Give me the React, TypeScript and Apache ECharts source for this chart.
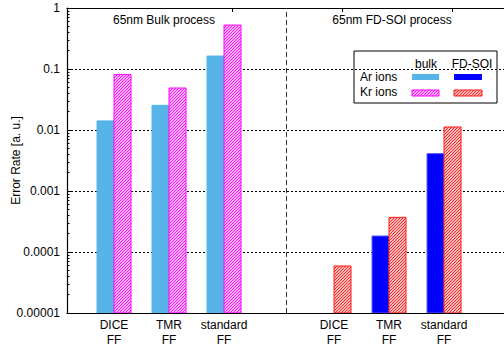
import React, { useEffect, useRef } from 'react';
import * as echarts from 'echarts';

const categories = ['DICE\nFF', 'TMR\nFF', 'standard\nFF', 'DICE\nFF', 'TMR\nFF', 'standard\nFF'];
const catPositions = [1, 2, 3, 5, 6, 7];
const bulkAr: (number | null)[] = [0.0141, 0.0254, 0.163];
const bulkKr: (number | null)[] = [0.081, 0.0488, 0.525];
const soiAr: (number | null)[] = [null, 0.000183, 0.0041];
const soiKr: (number | null)[] = [0.000059, 0.00037, 0.0112];
const yTicks = [1e-5, 1e-4, 1e-3, 1e-2, 1e-1, 1];
const yTickLabels = ['0.00001', '0.0001', '0.001', '0.01', '0.1', '1'];
const groupTitles = ['65nm Bulk process', '65nm FD-SOI process'];
const legendCols = ['bulk', 'FD-SOI'];
const legendRows = ['Ar ions', 'Kr ions'];
const yName = 'Error Rate [a. u.]';
const X_MIN = 0.145;
const X_MAX = 8.145;
const DIVIDER_X = 4.145;
const TOP_TICKS = [3.145, 5.145, 7.145];
const Y_MIN = 1e-5;
const Y_MAX = 1;

const FONT = "'Liberation Sans', Arial, Helvetica, sans-serif";
const LIGHT_BLUE = '#56b4e9';
const BLUE = '#0000ff';
const MAGENTA = '#ff00ff';
const RED = '#ff1a1a';

function makeHatch(color: string) {
  const c = document.createElement('canvas');
  const s = 3;
  c.width = s;
  c.height = s;
  const ctx = c.getContext('2d')!;
  ctx.fillStyle = '#ffffff';
  ctx.fillRect(0, 0, s, s);
  ctx.strokeStyle = color;
  ctx.lineWidth = 1.1;
  for (const k of [-s, 0, s]) {
    ctx.beginPath();
    ctx.moveTo(k - 1, s + 1);
    ctx.lineTo(k + s + 1, -1);
    ctx.stroke();
  }
  return { image: c, repeat: 'repeat' } as any;
}

function minorValues() {
  const out: number[] = [];
  for (let e = -5; e < 0; e++) {
    for (let m = 2; m <= 9; m++) out.push(m * Math.pow(10, e));
  }
  return out;
}

export default function App() {
  const ref = useRef<HTMLDivElement>(null);
  useEffect(() => {
    if (!ref.current) return;
    const chart = echarts.init(ref.current, undefined, { renderer: 'svg' });
    const magentaHatch = makeHatch(MAGENTA);
    const redHatch = makeHatch(RED);

    const barSeries = (name: string, values: (number | null)[], offsetIdx: number, side: number, fill: any, stroke: string) => ({
      type: 'custom',
      name,
      xAxisIndex: 0,
      yAxisIndex: 0,
      clip: true,
      renderItem: (params: any, api: any) => {
        const x = api.value(0);
        const y = api.value(1);
        const top = api.coord([x, y]);
        const base = api.coord([x, Y_MIN]);
        const w = api.size([1, 0])[0] * 0.309;
        const left = side < 0 ? top[0] - w : top[0];
        return {
          type: 'rect',
          shape: { x: left, y: top[1], width: w, height: base[1] - top[1] },
          style: { fill, stroke, lineWidth: 1 },
        };
      },
      encode: { x: 0, y: 1 },
      data: values
        .map((v, i) => (v == null ? null : [catPositions[offsetIdx + i], v]))
        .filter((d) => d != null),
    });

    const option: any = {
      animation: false,
      backgroundColor: '#ffffff',
      textStyle: { fontFamily: FONT },
      grid: { left: 67, top: 8, width: 440, height: 305, containLabel: false, outerBoundsMode: 'none' },
      xAxis: [
        {
          type: 'value',
          min: X_MIN,
          max: X_MAX,
          position: 'bottom',
          axisLine: { show: true, lineStyle: { color: '#000', width: 1.2 } },
          axisTick: { show: false },
          splitLine: { show: false },
          axisLabel: {
            customValues: catPositions,
            formatter: (v: number) => {
              const i = catPositions.findIndex((p) => Math.abs(p - v) < 1e-6);
              return i >= 0 ? categories[i] : '';
            },
            color: '#000',
            fontSize: 12,
            fontFamily: FONT,
            lineHeight: 15,
            margin: 4,
          },
        },
        {
          type: 'value',
          min: X_MIN,
          max: X_MAX,
          position: 'top',
          axisLine: { show: true, lineStyle: { color: '#000', width: 1.2 } },
          axisTick: { show: true, inside: true, length: 4, customValues: TOP_TICKS, lineStyle: { color: '#000' } },
          axisLabel: { show: false },
          splitLine: { show: false },
        },
      ],
      yAxis: [
        {
          type: 'log',
          logBase: 10,
          min: Y_MIN,
          max: Y_MAX,
          position: 'left',
          name: yName,
          nameLocation: 'middle',
          nameRotate: 90,
          nameGap: 45,
          nameMoveOverlap: false,
          nameTextStyle: { color: '#000', fontSize: 12, fontFamily: FONT },
          axisLine: { show: true, lineStyle: { color: '#000', width: 1.2 } },
          axisTick: { show: true, inside: true, length: 5, customValues: yTicks, lineStyle: { color: '#000' } },
          axisLabel: {
            customValues: yTicks,
            formatter: (v: number) => {
              const i = yTicks.findIndex((t) => Math.abs(Math.log10(t) - Math.log10(v)) < 1e-6);
              return i >= 0 ? yTickLabels[i] : '';
            },
            color: '#000',
            fontSize: 12,
            fontFamily: FONT,
            margin: 7,
          },
          splitLine: { show: true, lineStyle: { color: '#000', width: 1, type: [2, 2] } },
        },
        {
          type: 'log',
          logBase: 10,
          min: Y_MIN,
          max: Y_MAX,
          position: 'left',
          offset: 0,
          axisLine: { show: false },
          axisTick: { show: true, inside: true, length: 2.5, customValues: minorValues(), lineStyle: { color: '#000' } },
          axisLabel: { show: false },
          splitLine: { show: false },
        },
      ],
      series: [
        {
          ...barSeries('bulk Ar', bulkAr, 0, -1, LIGHT_BLUE, LIGHT_BLUE),
          markLine: {
            silent: true,
            symbol: 'none',
            label: { show: false },
            lineStyle: { color: '#333', width: 1, type: [5, 3] },
            data: [{ xAxis: DIVIDER_X }],
          },
        },
        barSeries('bulk Kr', bulkKr, 0, 1, magentaHatch, MAGENTA),
        barSeries('FD-SOI Ar', soiAr, 3, -1, BLUE, '#5a5aff'),
        barSeries('FD-SOI Kr', soiKr, 3, 1, redHatch, RED),
      ],
      graphic: [
        { type: 'text', x: 164, y: 20, style: { text: groupTitles[0], fill: '#000', font: `12px ${FONT}`, align: 'center', verticalAlign: 'middle' } },
        { type: 'text', x: 392, y: 20, style: { text: groupTitles[1], fill: '#000', font: `12px ${FONT}`, align: 'center', verticalAlign: 'middle' } },
        {
          type: 'group',
          x: 354,
          y: 51,
          children: [
            { type: 'rect', shape: { x: 0, y: 0, width: 143, height: 52 }, style: { fill: '#fff', stroke: '#000', lineWidth: 1 } },
            { type: 'text', x: 72, y: 13, style: { text: legendCols[0], fill: '#000', font: `12px ${FONT}`, align: 'center', verticalAlign: 'middle' } },
            { type: 'text', x: 118, y: 13, style: { text: legendCols[1], fill: '#000', font: `12px ${FONT}`, align: 'center', verticalAlign: 'middle' } },
            { type: 'text', x: 6, y: 26, style: { text: legendRows[0], fill: '#000', font: `12px ${FONT}`, align: 'left', verticalAlign: 'middle' } },
            { type: 'text', x: 6, y: 41, style: { text: legendRows[1], fill: '#000', font: `12px ${FONT}`, align: 'left', verticalAlign: 'middle' } },
            { type: 'rect', shape: { x: 58, y: 23, width: 27, height: 6 }, style: { fill: LIGHT_BLUE } },
            { type: 'rect', shape: { x: 100, y: 23, width: 28, height: 6 }, style: { fill: BLUE } },
            { type: 'rect', shape: { x: 58, y: 39, width: 27, height: 6 }, style: { fill: magentaHatch, stroke: MAGENTA, lineWidth: 1 } },
            { type: 'rect', shape: { x: 100, y: 39, width: 28, height: 6 }, style: { fill: redHatch, stroke: RED, lineWidth: 1 } },
          ],
        },
      ],
    };
    chart.setOption(option);
    return () => chart.dispose();
  }, []);
  return <div ref={ref} style={{ position: 'fixed', left: 0, top: 0, width: 504, height: 349 }} />;
}
